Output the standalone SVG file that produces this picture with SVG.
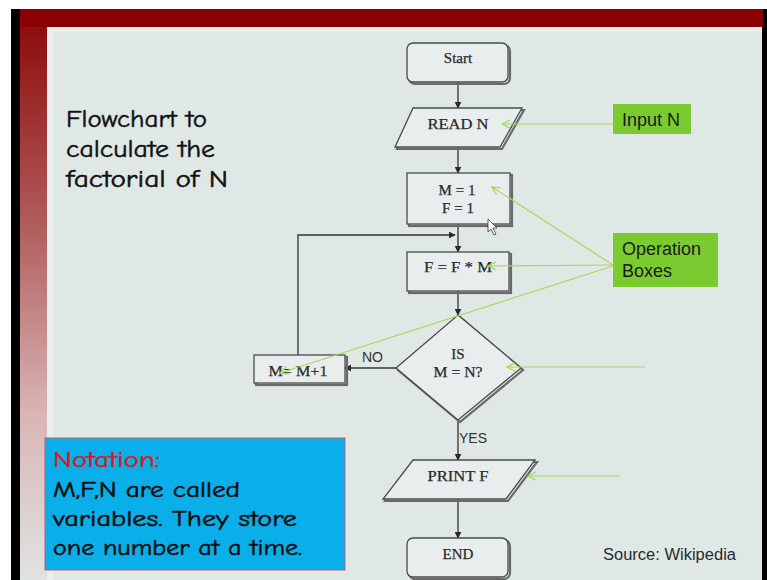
<svg xmlns="http://www.w3.org/2000/svg" width="767" height="580" viewBox="0 0 767 580">
<defs>
<linearGradient id="lstripe" x1="0" y1="0" x2="0" y2="1">
<stop offset="0" stop-color="#8e0d0d"/>
<stop offset="0.35" stop-color="#b05a5a"/>
<stop offset="0.7" stop-color="#d9b5b5"/>
<stop offset="1" stop-color="#dfe3e2"/>
</linearGradient>
<marker id="ah" viewBox="0 0 10 10" refX="9" refY="5" markerWidth="7" markerHeight="7" markerUnits="userSpaceOnUse" orient="auto">
<path d="M0,0 L10,5 L0,10 z" fill="#2a2a2a"/>
</marker>
<marker id="gh" viewBox="0 0 10 10" refX="9" refY="5" markerWidth="10" markerHeight="10" markerUnits="userSpaceOnUse" orient="auto">
<path d="M1,1 L9,5 L1,9" fill="none" stroke="#a6d85a" stroke-width="1.3"/>
</marker>
</defs>
<style>
.shape{fill:#e8eeed;stroke:#4a4a4a;stroke-width:1.3}
.shadow{fill:none;stroke:#6a6a6a;stroke-width:2.2}
.lbl{font-family:"Liberation Serif","Times New Roman",serif;font-size:15px;fill:#2a2a2a;stroke:#2a2a2a;stroke-width:0.25;text-anchor:middle}
.conn{fill:none;stroke:#333;stroke-width:1.3}
.green{fill:none;stroke:#a6d85a;stroke-width:1.2}
.gbox{fill:#7acb30}
.gtxt{font-family:"Liberation Sans",Arial,sans-serif;font-size:18px;fill:#1a1a1a}
.comic{font-family:"Comic Sans MS","Comic Neue","DejaVu Sans",sans-serif;stroke-width:0.5}
.small{font-family:"Liberation Sans",Arial,sans-serif;font-size:14px;fill:#333}
</style>
<!-- background frame -->
<rect x="0" y="0" width="767" height="580" fill="#ffffff"/>
<rect x="11" y="9" width="756" height="571" fill="#000000"/>
<rect x="20" y="9" width="742" height="571" fill="#e0e8e6"/>
<rect x="20" y="9" width="743" height="18" fill="#8b0000"/>
<rect x="20" y="27" width="27" height="553" fill="url(#lstripe)"/>
<rect x="47" y="27" width="6" height="553" fill="#e9eeed"/>
<rect x="47" y="27" width="715" height="5" fill="#e9eeed"/>

<!-- title -->
<g id="title" class="comic" font-size="25" fill="#111" stroke="#111">
<text x="66" y="127" textLength="141" lengthAdjust="spacingAndGlyphs">Flowchart to</text>
<text x="66" y="157" textLength="149" lengthAdjust="spacingAndGlyphs">calculate the</text>
<text x="66" y="187" textLength="162" lengthAdjust="spacingAndGlyphs">factorial of N</text>
</g>

<!-- connectors -->
<g id="connectors">
<line class="conn" x1="458" y1="82" x2="458" y2="108" marker-end="url(#ah)"/>
<line class="conn" x1="458" y1="147" x2="458" y2="173" marker-end="url(#ah)"/>
<line class="conn" x1="458" y1="224" x2="458" y2="252" marker-end="url(#ah)"/>
<polyline class="conn" points="298,355 298,235 455,235" marker-end="url(#ah)"/>
<line class="conn" x1="458" y1="291" x2="458" y2="315" marker-end="url(#ah)"/>
<line class="conn" x1="396" y1="368" x2="345" y2="368" marker-end="url(#ah)"/>
<line class="conn" x1="458" y1="420" x2="458" y2="460" marker-end="url(#ah)"/>
<line class="conn" x1="458" y1="499" x2="458" y2="538" marker-end="url(#ah)"/>
<text class="small" x="362" y="362">NO</text>
<text class="small" x="459" y="443">YES</text>
</g>

<!-- nodes -->
<g id="start">
<rect class="shadow" x="409" y="45" width="101" height="39" rx="6"/>
<rect class="shape" x="407" y="43" width="101" height="39" rx="6"/>
<text class="lbl" x="458" y="63">Start</text>
</g>
<g id="readN">
<polygon class="shadow" points="415,110 524,110 502,149 397,149"/>
<polygon class="shape" points="413,108 522,108 500,147 395,147"/>
<text class="lbl" x="458" y="129" textLength="61" lengthAdjust="spacingAndGlyphs">READ N</text>
</g>
<g id="init">
<rect class="shadow" x="409" y="175" width="103" height="51"/>
<rect class="shape" x="407" y="173" width="103" height="51"/>
<text class="lbl" x="457" y="195">M = 1</text>
<text class="lbl" x="458" y="213">F = 1</text>
</g>
<g id="multiply">
<rect class="shadow" x="409" y="254" width="102" height="39"/>
<rect class="shape" x="407" y="252" width="102" height="39"/>
<text class="lbl" x="458" y="272" textLength="68" lengthAdjust="spacingAndGlyphs">F = F * M</text>
</g>
<g id="decision">
<polygon class="shadow" points="460,317 523,370 460,422 398,370"/>
<polygon class="shape" points="458,315 521,368 458,420 396,368"/>
<text class="lbl" x="458" y="359">IS</text>
<text class="lbl" x="458" y="377" textLength="49" lengthAdjust="spacingAndGlyphs">M = N?</text>
</g>
<g id="increment">
<rect class="shadow" x="256" y="357" width="91" height="28"/>
<rect class="shape" x="254" y="355" width="91" height="28"/>
<text class="lbl" x="298" y="376" textLength="59" lengthAdjust="spacingAndGlyphs">M= M+1</text>
</g>
<g id="printF">
<polygon class="shadow" points="415,462 537,462 508,501 385,501"/>
<polygon class="shape" points="413,460 535,460 506,499 383,499"/>
<text class="lbl" x="458" y="481" textLength="61" lengthAdjust="spacingAndGlyphs">PRINT F</text>
</g>
<g id="end">
<rect class="shadow" x="409" y="540" width="101" height="39" rx="6"/>
<rect class="shape" x="407" y="538" width="101" height="39" rx="6"/>
<text class="lbl" x="458" y="559">END</text>
</g>

<!-- mouse cursor -->
<g id="cursor">
<polygon points="488,219 488,232 491,229 494,235 496,234 493,228 497,228" fill="#ffffff" stroke="#333" stroke-width="0.8"/>
</g>

<!-- annotations -->
<g id="annotations">
<line class="green" x1="613" y1="124" x2="502" y2="124" marker-end="url(#gh)"/>
<line class="green" x1="613" y1="265" x2="492" y2="187" marker-end="url(#gh)"/>
<line class="green" x1="613" y1="265" x2="488" y2="266" marker-end="url(#gh)"/>
<line class="green" x1="613" y1="266" x2="280" y2="373" marker-end="url(#gh)"/>
<line class="green" x1="645" y1="367" x2="507" y2="367" marker-end="url(#gh)"/>
<line class="green" x1="620" y1="476" x2="528" y2="476" marker-end="url(#gh)"/>
</g>
<g id="inputN">
<rect class="gbox" x="613" y="104" width="78" height="30"/>
<text class="gtxt" x="622" y="126">Input N</text>
</g>
<g id="opBoxes">
<rect class="gbox" x="613" y="233" width="105" height="54"/>
<text class="gtxt" x="622" y="255">Operation</text>
<text class="gtxt" x="622" y="277">Boxes</text>
</g>

<g id="notation">
<rect x="45" y="438" width="300" height="132" fill="#0aaee8" stroke="#c05a78" stroke-width="1"/>
<g class="comic" font-size="22" fill="#0d0d0d" stroke="#0d0d0d">
<text x="53" y="467" fill="#d0202a" stroke="#d0202a" textLength="107" lengthAdjust="spacingAndGlyphs">Notation:</text>
<text x="53" y="497" textLength="187" lengthAdjust="spacingAndGlyphs">M,F,N are called</text>
<text x="53" y="526" textLength="244" lengthAdjust="spacingAndGlyphs">variables. They store</text>
<text x="53" y="555" textLength="249" lengthAdjust="spacingAndGlyphs">one number at a time.</text>
</g>
</g>

<g id="source">
<text x="603" y="560" font-family="'Liberation Sans',Arial,sans-serif" font-size="16" fill="#2a2a2a" textLength="133" lengthAdjust="spacingAndGlyphs">Source: Wikipedia</text>
</g>
</svg>
